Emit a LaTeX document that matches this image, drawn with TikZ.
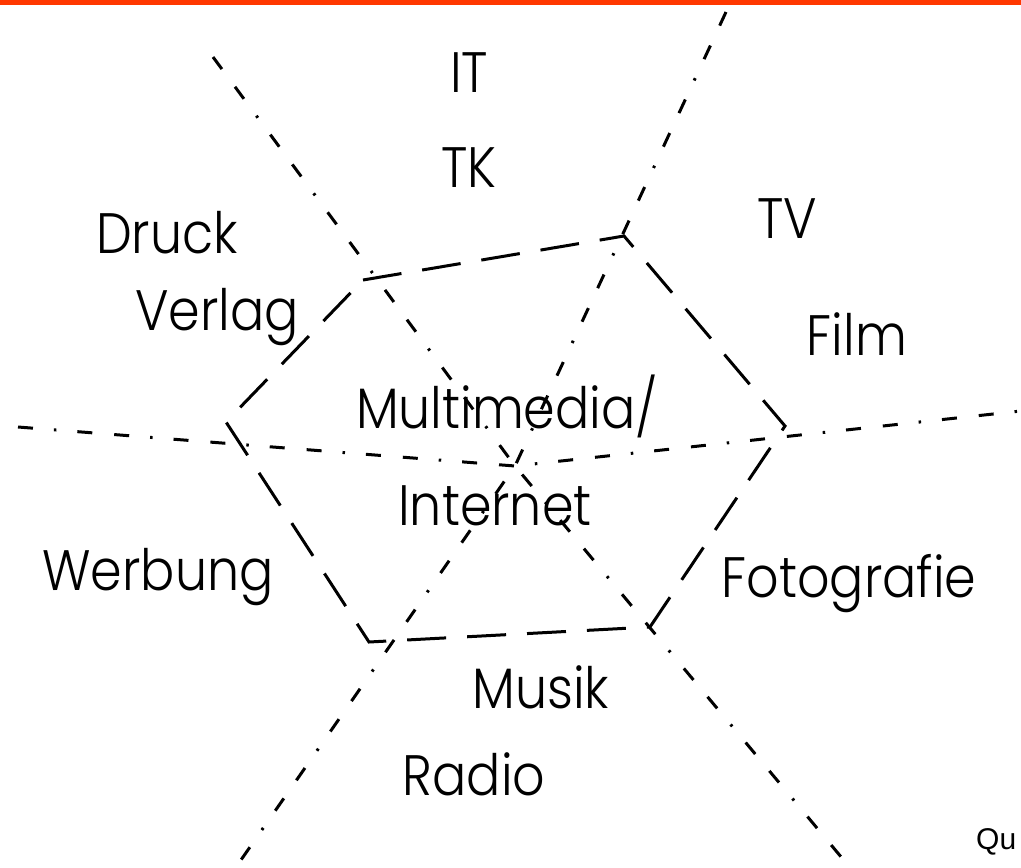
\documentclass[tikz,border=0pt]{standalone}
\usepackage{fontspec}
\setmainfont{Poppins}[UprightFont=* Light, FakeStretch=0.89]
\newfontfamily\quelle{Liberation Sans}
\definecolor{topbar}{RGB}{255,56,0}
\tikzset{
  hexline/.style={line width=3pt, dash pattern=on 39pt off 21pt},
  axisline/.style={line width=3pt, dash pattern=on 15pt off 22pt on 15pt off 21pt on 2.5pt off 21pt},
  lbl/.style={anchor=base, inner sep=0pt, font=\fontsize{57}{60}\selectfont},
}
\begin{document}
\begin{tikzpicture}[x=1pt,y=-1pt]
\useasboundingbox (0,0) rectangle (1021,868);
\fill[topbar] (0,0) rectangle (1021,4.5);
% hexagon corners
\coordinate (tl) at (363,280);
\coordinate (tr) at (624,236);
\coordinate (r) at (785,426);
\coordinate (br) at (650,627);
\coordinate (bl) at (369,642);
\coordinate (l) at (226,422);
\coordinate (c) at (515,466);
% axis ends
\coordinate (a1) at (213,57);
\coordinate (a2) at (852,870);
\coordinate (b1) at (726,12);
\coordinate (b2) at (234,870);
\coordinate (c1) at (18,427);
\coordinate (c2) at (1030,410);
\draw[hexline] (tl) -- (tr) -- (r) -- (br) -- (bl) -- (l) -- cycle;
\draw[axisline] (a1) -- (c) -- (a2);
\draw[axisline] (b1) -- (c) -- (b2);
\draw[axisline, dash phase=37pt] (c1) -- (c) -- (c2);
% labels
\node[lbl] (it) at (469,92) {IT};
\node[lbl] (tk) at (469,187) {TK};
\node[lbl] (druck) at (167,253) {Druck};
\node[lbl] (verlag) at (217,330) {Verlag};
\node[lbl] (tv) at (787,238) {TV};
\node[lbl] (film) at (857,355) {Film};
\node[lbl] (multi) at (507,428) {Multimedia/};
\node[lbl] (internet) at (495,525) {Internet};
\node[lbl] (werbung) at (158,590) {Werbung};
\node[lbl] (foto) at (849,597) {Fotografie};
\node[lbl] (musik) at (541,708) {Musik};
\node[lbl] (radio) at (474,795) {Radio};
\node[anchor=base west, inner sep=0pt, font=\quelle\fontsize{30}{32}\selectfont] (qu) at (976,849) {Qu};
\end{tikzpicture}
\end{document}
